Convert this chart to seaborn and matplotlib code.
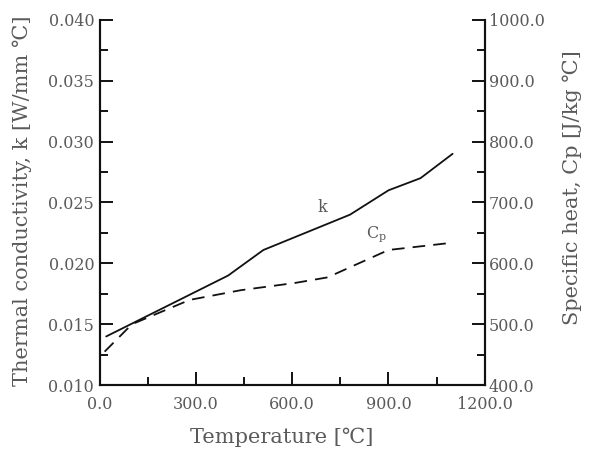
import matplotlib
matplotlib.use('Agg')
import matplotlib.pyplot as plt
import seaborn as sns
import pandas as pd
from matplotlib.ticker import MultipleLocator, FormatStrFormatter

sns.set_style('white')
plt.rcParams['font.family'] = ['DejaVu Serif', 'Noto Sans CJK KR']

# thermal conductivity k [W/mm C]
k_temp = [20, 400, 510, 780, 900, 1000, 1100]
k_vals = [0.0140, 0.0190, 0.0211, 0.0240, 0.0260, 0.0270, 0.0290]

# specific heat Cp [J/kg C]
cp_temp = [15, 100, 280, 440, 610, 710, 900, 1100]
cp_vals = [455, 500, 540, 556, 568, 577, 622, 634]

txt = '#5a5a5a'
df_k = pd.DataFrame({'T': k_temp, 'k': k_vals})
df_cp = pd.DataFrame({'T': cp_temp, 'cp': cp_vals})

fig = plt.figure(figsize=(5.94, 4.51), dpi=100)
ax = fig.add_axes([0.168, 0.146, 0.648, 0.81])
ax2 = ax.twinx()

sns.lineplot(data=df_k, x='T', y='k', ax=ax, color='#111111', lw=1.3,
             sort=False, estimator=None)
sns.lineplot(data=df_cp, x='T', y='cp', ax=ax2, color='#111111', lw=1.3,
             sort=False, estimator=None, dashes=False)
ax2.lines[0].set_dashes((7, 4.5))

ax.set_xlim(0, 1200)
ax.set_ylim(0.010, 0.040)
ax2.set_ylim(400, 1000)

ax.xaxis.set_major_locator(MultipleLocator(300))
ax.xaxis.set_minor_locator(MultipleLocator(150))
ax.yaxis.set_major_locator(MultipleLocator(0.005))
ax.yaxis.set_minor_locator(MultipleLocator(0.0025))
ax2.yaxis.set_major_locator(MultipleLocator(100))
ax2.yaxis.set_minor_locator(MultipleLocator(50))
ax.xaxis.set_major_formatter(FormatStrFormatter('%.1f'))
ax.yaxis.set_major_formatter(FormatStrFormatter('%.3f'))
ax2.yaxis.set_major_formatter(FormatStrFormatter('%.1f'))

for a in (ax, ax2):
    a.spines['top'].set_visible(False)
    for s in ('left', 'right', 'bottom'):
        a.spines[s].set_color('#111111')
        a.spines[s].set_linewidth(1.5)
    a.tick_params(which='major', direction='in', length=9.5, width=1.4, color='#111111',
                  labelsize=11.5, labelcolor=txt)
    a.tick_params(which='minor', direction='in', length=6, width=1.4, color='#111111')
ax.tick_params(axis='x', which='both', bottom=True)
ax.tick_params(axis='y', which='both', left=True, right=False, pad=4)
ax2.tick_params(axis='y', which='both', right=True, left=False, pad=3)
ax.tick_params(axis='x', pad=8)

ax.set_xlabel('Temperature [℃]', fontsize=15, color=txt)
ax.set_ylabel('Thermal conductivity, k [W/mm ℃]', fontsize=15, color=txt)
ax2.set_ylabel('Specific heat, Cp [J/kg ℃]', fontsize=15, color=txt)
ax.xaxis.set_label_coords(0.473, -0.115)
ax.yaxis.set_label_coords(-0.177, 0.504)
ax2.yaxis.set_label_coords(1.203, 0.54)

ax.text(693, 0.0246, 'k', fontsize=11.5, color=txt, ha='center', va='center')
ax2.text(863, 648, r'C$_\mathregular{p}$', fontsize=11.5, color=txt, ha='center', va='center')

fig.savefig('out.png', dpi=100)
